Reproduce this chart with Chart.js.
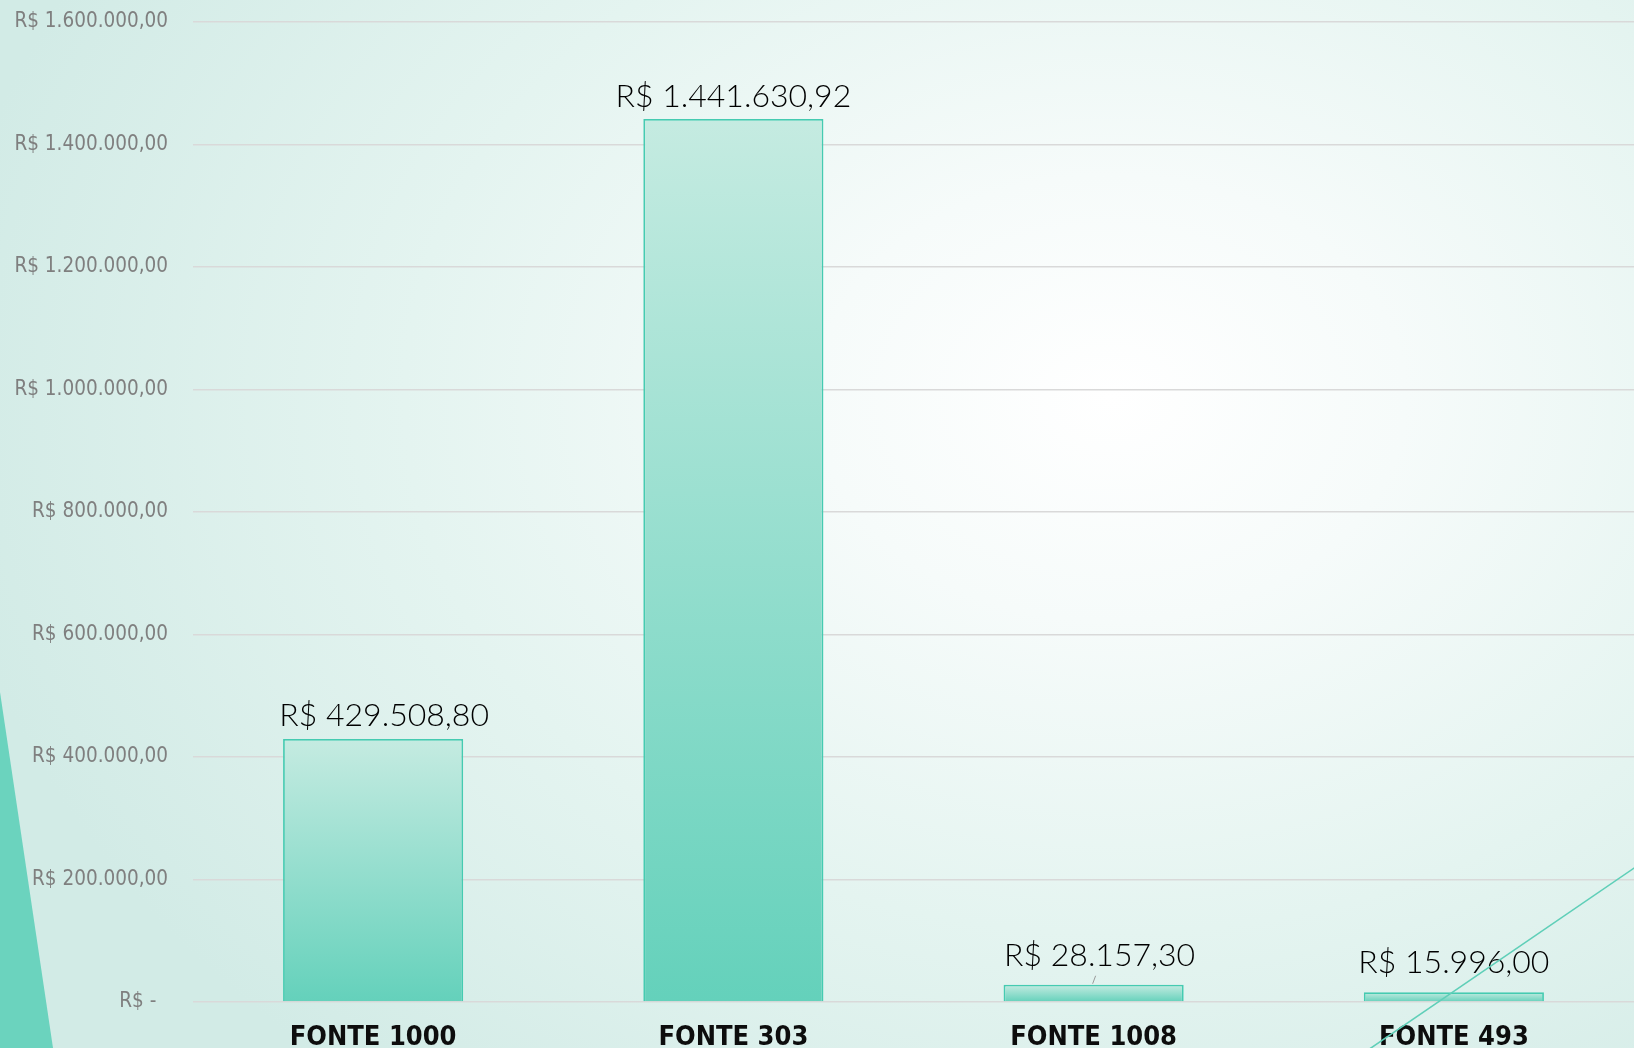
<!DOCTYPE html>
<html>
<head>
<meta charset="utf-8">
<script src="https://cdn.jsdelivr.net/npm/chart.js@4.4.1/dist/chart.umd.min.js"></script>
<style>
  html, body { margin: 0; padding: 0; overflow: hidden; }
  body {
    width: 1634px; height: 1048px;
    background: radial-gradient(ellipse 72% 85% at 68% 38%, #ffffff 0%, #f6fbfa 25%, #e4f4f0 60%, #d2ebe6 100%);
  }
  #wrap { position: relative; width: 1634px; height: 1048px; }
</style>
</head>
<body>
<div id="wrap"><canvas id="c"></canvas></div>
<script>
const categories = ['FONTE 1000', 'FONTE 303', 'FONTE 1008', 'FONTE 493'];
const values = [429508.80, 1441630.92, 28157.30, 15996.00];
const yTickValues = [0, 200000, 400000, 600000, 800000, 1000000, 1200000, 1400000, 1600000];

// label nudges (style only, not data)
const labelDx = [11, 0, 6, 0];
const labelGap = [13, 12, 19, 19];

function fmtBRL(v) {
  const fixed = Math.abs(v).toFixed(2);
  let [intPart, dec] = fixed.split('.');
  intPart = intPart.replace(/\B(?=(\d{3})+(?!\d))/g, '.');
  return 'R$ ' + intPart + ',' + dec;
}

const decor = {
  id: 'decor',
  beforeDraw(chart) {
    const c = chart.ctx;
    c.save();
    c.fillStyle = '#6bd3be';
    c.beginPath();
    c.moveTo(0, 692);
    c.lineTo(53, 1048);
    c.lineTo(0, 1048);
    c.closePath();
    c.fill();
    c.restore();
  },
  afterDraw(chart) {
    const c = chart.ctx;
    c.save();
    c.strokeStyle = '#5fcfb8';
    c.lineWidth = 1.6;
    c.beginPath();
    c.moveTo(1640, 864);
    c.lineTo(1368, 1050);
    c.stroke();
    c.restore();
  }
};

const valueLabels = {
  id: 'valueLabels',
  afterDatasetsDraw(chart) {
    const c = chart.ctx;
    const meta = chart.getDatasetMeta(0);
    c.save();
    c.font = '300 32px Lato, "Noto Sans", sans-serif';
    c.fillStyle = '#000000';
    c.textAlign = 'center';
    c.textBaseline = 'alphabetic';
    meta.data.forEach((bar, i) => {
      const x = bar.x + labelDx[i];
      const y = bar.y - labelGap[i];
      c.fillText(fmtBRL(values[i]), x, y);
      if (i === 2) {
        c.strokeStyle = '#9a9a9a';
        c.lineWidth = 1;
        c.beginPath();
        c.moveTo(bar.x + 2, bar.y - 9);
        c.lineTo(bar.x - 1, bar.y - 1);
        c.stroke();
      }
    });
    c.restore();
  }
};

new Chart(document.getElementById('c'), {
  type: 'bar',
  data: {
    labels: categories,
    datasets: [{
      data: values,
      backgroundColor: (ctx) => {
        const chart = ctx.chart;
        if (!chart.chartArea || ctx.type !== 'data') return '#8edccb';
        const y = chart.scales.y;
        const top = y.getPixelForValue(ctx.raw);
        const bottom = y.getPixelForValue(0);
        const g = chart.ctx.createLinearGradient(0, top, 0, Math.max(bottom, top + 1));
        g.addColorStop(0, '#c5ebe1');
        g.addColorStop(1, '#64d1bb');
        return g;
      },
      borderColor: '#45cbb1',
      borderWidth: 1.8,
      barPercentage: 0.5,
      categoryPercentage: 1.0
    }]
  },
  options: {
    responsive: true,
    maintainAspectRatio: false,
    animation: false,
    layout: { padding: { top: 22, right: 0, left: 0, bottom: 0 } },
    plugins: {
      legend: { display: false },
      tooltip: { enabled: false }
    },
    scales: {
      x: {
        grid: { display: false, drawTicks: false },
        border: { display: false },
        ticks: {
          color: '#0d0d0d',
          font: { family: '"DejaVu Sans Condensed", "Liberation Sans", sans-serif', size: 27, weight: 'bold' },
          padding: 20,
          maxRotation: 0
        },
        afterFit(scale) { scale.height = 46; scale.paddingLeft = 0; scale.paddingRight = 0; }
      },
      y: {
        min: 0,
        max: 1600000,
        afterBuildTicks(scale) { scale.ticks = yTickValues.map(v => ({ value: v })); },
        grid: { color: '#d9d9d9', lineWidth: 1.5, drawTicks: false },
        border: { display: false },
        ticks: {
          color: '#7f7f7f',
          font: { family: '"DejaVu Sans Condensed", "Liberation Sans", sans-serif', size: 20.5 },
          padding: 25,
          callback: (v) => v === 0 ? 'R$ -  ' : fmtBRL(v)
        },
        afterFit(scale) { scale.width = 193; scale.paddingTop = 0; scale.paddingBottom = 0; }
      }
    }
  },
  plugins: [decor, valueLabels]
});
</script>
</body>
</html>
